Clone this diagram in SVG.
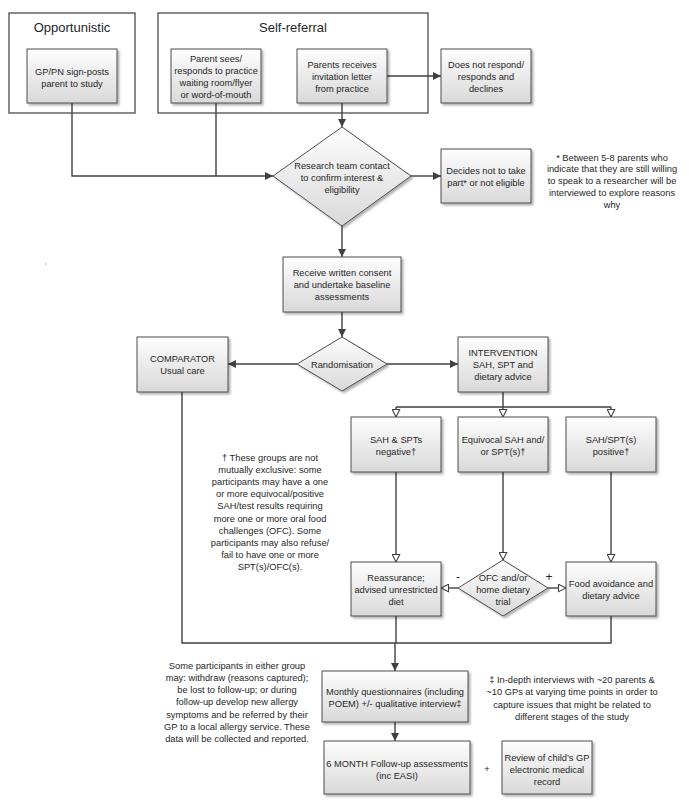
<svg xmlns="http://www.w3.org/2000/svg" width="689" height="808" viewBox="0 0 689 808">
<style>
  .box{fill:url(#g);stroke:#4d4d4d;stroke-width:1;filter:url(#sh)}
  .frame{fill:#fff;stroke:#4d4d4d;stroke-width:1.3}
  .t{font-family:"Liberation Sans",Arial,sans-serif;font-size:9.3px;fill:#262626;text-anchor:middle}
  .h{font-family:"Liberation Sans",Arial,sans-serif;font-size:13px;fill:#262626;text-anchor:middle}
  .c{fill:none;stroke:#404040;stroke-width:1.4}
  .f{marker-end:url(#af)}
  .o{marker-end:url(#ao)}
</style>
<defs>
  <linearGradient id="g" x1="0" y1="0" x2="0" y2="1">
    <stop offset="0" stop-color="#fdfdfd"/>
    <stop offset="1" stop-color="#d9d9d9"/>
  </linearGradient>
  <filter id="sh" x="-10%" y="-10%" width="130%" height="130%">
    <feDropShadow dx="2" dy="2" stdDeviation="1.2" flood-color="#000" flood-opacity="0.3"/>
  </filter>
  <marker id="af" viewBox="0 0 10 10" refX="10" refY="5" markerWidth="9" markerHeight="8" orient="auto" markerUnits="userSpaceOnUse">
    <path d="M0,0 L10,5 L0,10 z" fill="#404040"/>
  </marker>
  <marker id="ao" viewBox="0 0 12 12" refX="11" refY="6" markerWidth="10" markerHeight="9" orient="auto" markerUnits="userSpaceOnUse">
    <path d="M1,1 L11,6 L1,11 z" fill="#fff" stroke="#404040" stroke-width="1.4"/>
  </marker>
</defs>
<rect width="689" height="808" fill="#fff"/>
<circle cx="46" cy="264" r="1" fill="#cfcfcf"/>

<g id="opportunistic">
  <rect class="frame" x="9" y="13" width="126" height="100"/>
  <text class="h" x="72" y="31.5">Opportunistic</text>
</g>
<g id="self-referral">
  <rect class="frame" x="158" y="13" width="270" height="100"/>
  <text class="h" x="293" y="31.5">Self-referral</text>
</g>

<g id="connectors">
  <path class="c f" d="M72,103 V176 H273"/>
  <path class="c" d="M216,103 V176"/>
  <path class="c f" d="M342,103 V127"/>
  <path class="c f" d="M387,76 H441"/>
  <path class="c f" d="M411,176 H441"/>
  <path class="c f" d="M342,226 V257"/>
  <path class="c f" d="M342,312 V337"/>
  <path class="c f" d="M297,364 H228"/>
  <path class="c f" d="M387,364 H458"/>
  <path class="c" d="M503,392 V407 M396,407 H611"/>
  <path class="c o" d="M396,407 V417"/>
  <path class="c o" d="M503,407 V417"/>
  <path class="c o" d="M611,407 V417"/>
  <path class="c o" d="M396,472 V562"/>
  <path class="c o" d="M503,472 V560"/>
  <path class="c o" d="M611,472 V562"/>
  <path class="c o" d="M458,588 H441"/>
  <path class="c o" d="M548,588 H566"/>
  <path class="c" d="M182,392 V643 H611 V616"/>
  <path class="c" d="M396,616 V643"/>
  <path class="c f" d="M395,643 V671"/>
  <path class="c f" d="M395,722 V741"/>
</g>

<g id="gp-pn">
  <rect class="box" x="27" y="49" width="90" height="54"/>
  <text class="t" x="72" y="74.5">GP/PN sign-posts</text>
  <text class="t" x="72" y="86.5">parent to study</text>
</g>
<g id="parent-sees">
  <rect class="box" x="171" y="49" width="90" height="54"/>
  <text class="t" x="216" y="61.5">Parent sees/</text>
  <text class="t" x="216" y="73.5">responds to practice</text>
  <text class="t" x="216" y="85.5">waiting room/flyer</text>
  <text class="t" x="216" y="97.5">or word-of-mouth</text>
</g>
<g id="parents-receives">
  <rect class="box" x="297" y="49" width="90" height="54"/>
  <text class="t" x="342" y="67.5">Parents receives</text>
  <text class="t" x="342" y="79.5">invitation letter</text>
  <text class="t" x="342" y="91.5">from practice</text>
</g>
<g id="does-not-respond">
  <rect class="box" x="441" y="49" width="90" height="54"/>
  <text class="t" x="486" y="67.5">Does not respond/</text>
  <text class="t" x="486" y="79.5">responds and</text>
  <text class="t" x="486" y="91.5">declines</text>
</g>
<g id="research-team">
  <polygon class="box" points="342,127 411,176 342,226 273,176"/>
  <text class="t" x="342" y="168.5">Research team contact</text>
  <text class="t" x="342" y="180.5">to confirm interest &amp;</text>
  <text class="t" x="342" y="192.5">eligibility</text>
</g>
<g id="decides-not">
  <rect class="box" x="441" y="149" width="90" height="54"/>
  <text class="t" x="486" y="173.5">Decides not to take</text>
  <text class="t" x="486" y="185.5">part* or not eligible</text>
</g>
<g id="note-star">
  <text class="t" x="612" y="160.5">* Between 5-8 parents who</text>
  <text class="t" x="612" y="172.3">indicate that they are still willing</text>
  <text class="t" x="612" y="184.1">to speak to a researcher will be</text>
  <text class="t" x="612" y="195.9">interviewed to explore reasons</text>
  <text class="t" x="612" y="207.7">why</text>
</g>
<g id="consent">
  <rect class="box" x="283" y="257" width="118" height="55"/>
  <text class="t" x="342" y="275.5">Receive written consent</text>
  <text class="t" x="342" y="287.5">and undertake baseline</text>
  <text class="t" x="342" y="299.5">assessments</text>
</g>
<g id="randomisation">
  <polygon class="box" points="342,337 387,364 342,391 297,364"/>
  <text class="t" x="342" y="367.5">Randomisation</text>
</g>
<g id="comparator">
  <rect class="box" x="137" y="337" width="91" height="55"/>
  <text class="t" x="182.5" y="361.5">COMPARATOR</text>
  <text class="t" x="182.5" y="373.5">Usual care</text>
</g>
<g id="intervention">
  <rect class="box" x="458" y="337" width="90" height="55"/>
  <text class="t" x="503" y="355.5">INTERVENTION</text>
  <text class="t" x="503" y="367.5">SAH, SPT and</text>
  <text class="t" x="503" y="379.5">dietary advice</text>
</g>
<g id="sah-negative">
  <rect class="box" x="351" y="417" width="90" height="55"/>
  <text class="t" x="396" y="442.5">SAH &amp; SPTs</text>
  <text class="t" x="396" y="454.5">negative†</text>
</g>
<g id="equivocal">
  <rect class="box" x="458" y="417" width="90" height="55"/>
  <text class="t" x="503" y="442.5">Equivocal SAH and/</text>
  <text class="t" x="503" y="454.5">or SPT(s)†</text>
</g>
<g id="sah-positive">
  <rect class="box" x="566" y="417" width="90" height="55"/>
  <text class="t" x="611" y="442.5">SAH/SPT(s)</text>
  <text class="t" x="611" y="454.5">positive†</text>
</g>
<g id="note-dagger">
  <text class="t" x="270" y="460.5">† These groups are not</text>
  <text class="t" x="270" y="472.7">mutually exclusive: some</text>
  <text class="t" x="270" y="484.9">participants may have a one</text>
  <text class="t" x="270" y="497.1">or more equivocal/positive</text>
  <text class="t" x="270" y="509.3">SAH/test results requiring</text>
  <text class="t" x="270" y="521.5">more one or more oral food</text>
  <text class="t" x="270" y="533.7">challenges (OFC). Some</text>
  <text class="t" x="270" y="545.9">participants may also refuse/</text>
  <text class="t" x="270" y="558.1">fail to have one or more</text>
  <text class="t" x="270" y="570.3">SPT(s)/OFC(s).</text>
</g>
<g id="reassurance">
  <rect class="box" x="351" y="562" width="90" height="54"/>
  <text class="t" x="396" y="580.5">Reassurance;</text>
  <text class="t" x="396" y="592.5">advised unrestricted</text>
  <text class="t" x="396" y="604.5">diet</text>
</g>
<g id="ofc">
  <polygon class="box" points="503,560 548,588 503,616 458,588"/>
  <text class="t" x="503" y="580.5">OFC and/or</text>
  <text class="t" x="503" y="592.5">home dietary</text>
  <text class="t" x="503" y="604.5">trial</text>
</g>
<g id="labels">
  <text class="t" x="458" y="581" style="font-size:12px">-</text>
  <text class="t" x="549" y="581" style="font-size:12px">+</text>
</g>
<g id="food-avoidance">
  <rect class="box" x="566" y="562" width="90" height="54"/>
  <text class="t" x="611" y="586.5">Food avoidance and</text>
  <text class="t" x="611" y="598.5">dietary advice</text>
</g>
<g id="note-left">
  <text class="t" x="237" y="668.5">Some participants in either group</text>
  <text class="t" x="237" y="680.8">may: withdraw (reasons captured);</text>
  <text class="t" x="237" y="693.1">be lost to follow-up; or during</text>
  <text class="t" x="237" y="705.4">follow-up develop new allergy</text>
  <text class="t" x="237" y="717.7">symptoms and be referred by their</text>
  <text class="t" x="237" y="730">GP to a local allergy service. These</text>
  <text class="t" x="237" y="742.3">data will be collected and reported.</text>
</g>
<g id="monthly">
  <rect class="box" x="322" y="671" width="146" height="51"/>
  <text class="t" x="395" y="694.5">Monthly questionnaires (including</text>
  <text class="t" x="395" y="706.5">POEM) +/- qualitative interview‡</text>
</g>
<g id="note-ddagger">
  <text class="t" x="572" y="682.5">‡ In-depth interviews with ~20 parents &amp;</text>
  <text class="t" x="572" y="695">~10 GPs at varying time points in order to</text>
  <text class="t" x="572" y="707.5">capture issues that might be related to</text>
  <text class="t" x="572" y="720">different stages of the study</text>
</g>
<g id="six-month">
  <rect class="box" x="324" y="741" width="146" height="53"/>
  <text class="t" x="397" y="766.5">6 MONTH Follow-up assessments</text>
  <text class="t" x="397" y="778.5">(inc EASI)</text>
</g>
<text class="t" x="487" y="771.5">+</text>
<g id="review">
  <rect class="box" x="502" y="741" width="90" height="53"/>
  <text class="t" x="547" y="760.5">Review of child’s GP</text>
  <text class="t" x="547" y="772.5">electronic medical</text>
  <text class="t" x="547" y="784.5">record</text>
</g>
</svg>
